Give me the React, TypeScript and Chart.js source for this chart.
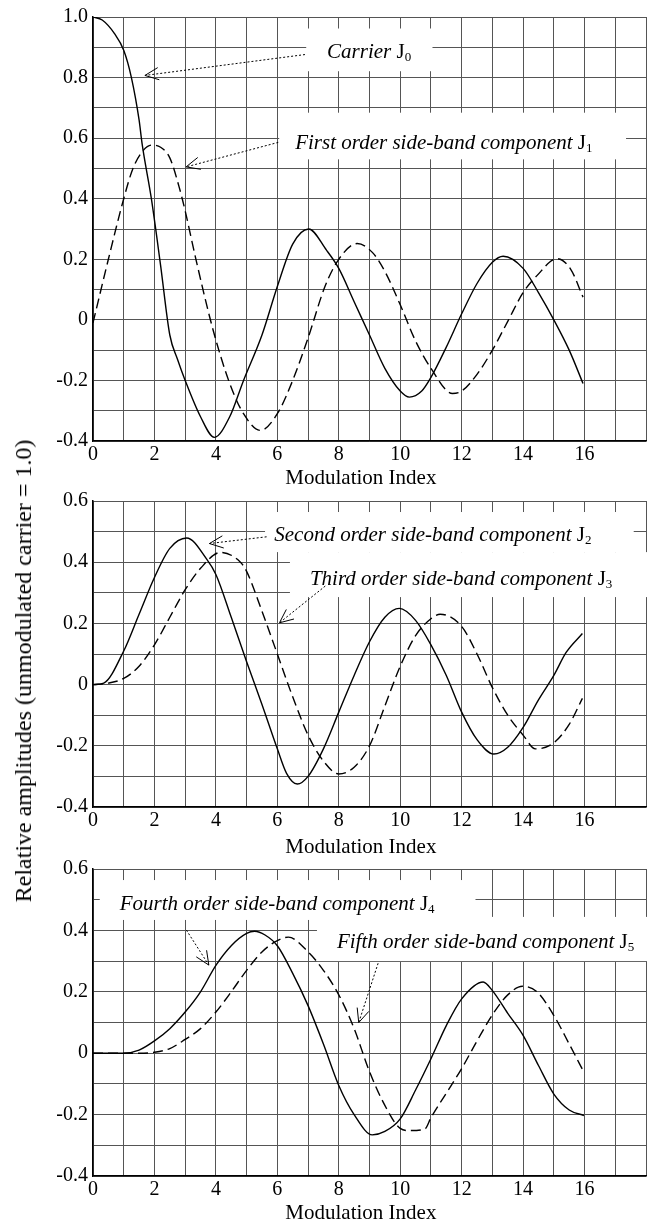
import React, { useEffect, useRef } from "react";
import { Chart, registerables } from "chart.js";

Chart.register(...registerables);

const FONT = "'Liberation Serif', 'Times New Roman', Times, serif";

// ---------- Data ----------
const J0_X = [0, 0.3, 0.7, 1.0, 1.25, 1.5, 1.6, 1.9, 2.2, 2.5, 2.75, 3.0, 3.5, 3.95, 4.45, 4.9, 5.5, 6.0, 6.5, 7.02, 7.6, 8.0, 8.5, 9.0, 9.5, 10.0, 10.3, 10.7, 11.0, 11.5, 12.0, 12.5, 13.0, 13.35, 14.0, 14.5, 15.0, 15.5, 15.95];
const J0_Y = [1.0, 0.99, 0.945, 0.89, 0.8, 0.66, 0.58, 0.4, 0.18, -0.05, -0.13, -0.2, -0.32, -0.388, -0.32, -0.2, -0.05, 0.11, 0.25, 0.3, 0.23, 0.17, 0.06, -0.05, -0.16, -0.235, -0.255, -0.235, -0.19, -0.09, 0.02, 0.12, 0.19, 0.21, 0.17, 0.09, 0.0, -0.1, -0.21];

const J1_X = [0, 0.5, 1.0, 1.3, 1.6, 1.9, 2.2, 2.5, 2.8, 3.0, 3.35, 3.9, 4.45, 4.9, 5.45, 6.0, 6.5, 7.0, 7.55, 8.0, 8.6, 9.1, 9.5, 10.0, 10.5, 11.0, 11.7, 12.0, 12.5, 13.0, 13.5, 14.0, 14.45, 15.1, 15.55, 15.95];
const J1_Y = [-0.01, 0.2, 0.4, 0.5, 0.555, 0.577, 0.57, 0.535, 0.44, 0.36, 0.2, -0.03, -0.21, -0.31, -0.365, -0.31, -0.2, -0.06, 0.11, 0.2, 0.252, 0.222, 0.16, 0.05, -0.07, -0.16, -0.243, -0.235, -0.18, -0.1, -0.005, 0.09, 0.146, 0.202, 0.167, 0.075];

const J2_X = [0, 0.35, 1.0, 1.5, 2.0, 2.5, 3.05, 3.7, 4.0, 4.5, 5.0, 5.5, 6.0, 6.3, 6.65, 7.0, 7.5, 8.0, 8.5, 9.0, 9.5, 9.97, 10.5, 11.0, 11.5, 12.0, 12.5, 13.05, 13.5, 14.0, 14.5, 15.0, 15.4, 15.93];
const J2_Y = [0, 0.005, 0.11, 0.23, 0.35, 0.445, 0.479, 0.41, 0.36, 0.22, 0.075, -0.065, -0.21, -0.29, -0.325, -0.3, -0.21, -0.09, 0.03, 0.14, 0.22, 0.249, 0.21, 0.13, 0.03, -0.09, -0.18, -0.227, -0.205, -0.14, -0.05, 0.03, 0.105, 0.167];

const J3_X = [0, 0.5, 1.0, 1.5, 2.0, 2.5, 3.0, 3.5, 4.15, 4.8, 5.0, 5.5, 6.0, 6.5, 7.0, 7.5, 8.0, 8.5, 9.0, 9.5, 10.0, 10.5, 11.0, 11.3, 12.0, 12.5, 13.0, 13.5, 14.0, 14.4, 15.0, 15.5, 15.93];
const J3_Y = [0, 0.005, 0.02, 0.06, 0.13, 0.22, 0.31, 0.38, 0.432, 0.4, 0.37, 0.24, 0.1, -0.04, -0.165, -0.25, -0.292, -0.27, -0.2, -0.07, 0.06, 0.16, 0.215, 0.23, 0.19, 0.1, -0.01, -0.1, -0.165, -0.21, -0.19, -0.13, -0.045];

const J4_X = [0, 1.0, 1.5, 2.0, 2.5, 3.0, 3.5, 4.0, 4.5, 5.0, 5.26, 5.6, 6.0, 6.5, 7.0, 7.5, 8.0, 8.5, 9.09, 9.5, 10.0, 10.5, 11.0, 11.5, 12.0, 12.7, 13.0, 13.5, 14.0, 14.5, 15.0, 15.5, 15.98];
const J4_Y = [0, 0.0, 0.01, 0.04, 0.08, 0.134, 0.2, 0.286, 0.35, 0.39, 0.397, 0.385, 0.35, 0.26, 0.155, 0.03, -0.105, -0.2, -0.266, -0.255, -0.214, -0.12, -0.018, 0.09, 0.177, 0.232, 0.204, 0.13, 0.058, -0.04, -0.133, -0.185, -0.203];

const J5_X = [0, 1.5, 2.0, 2.5, 3.0, 3.5, 4.0, 4.5, 5.0, 5.5, 6.0, 6.36, 7.0, 7.5, 8.0, 8.5, 9.0, 9.5, 10.0, 10.3, 10.8, 11.0, 11.5, 12.0, 12.5, 13.0, 13.5, 13.98, 14.45, 15.0, 15.5, 15.98];
const J5_Y = [0, 0.0, 0.003, 0.015, 0.045, 0.08, 0.134, 0.2, 0.27, 0.33, 0.367, 0.378, 0.33, 0.27, 0.19, 0.08, -0.06, -0.17, -0.245, -0.252, -0.247, -0.21, -0.13, -0.05, 0.04, 0.125, 0.19, 0.218, 0.2, 0.123, 0.03, -0.062];

const X_LABEL_VALUES = [0, 2, 4, 6, 8, 10, 12, 14, 16];
const X_TITLE = "Modulation Index";
const Y_TITLE = "Relative amplitudes (unmodulated carrier = 1.0)";

const LABEL_J0 = "Carrier ";
const LABEL_J1 = "First order side-band component ";
const LABEL_J2 = "Second order side-band component ";
const LABEL_J3 = "Third order side-band component ";
const LABEL_J4 = "Fourth order side-band component ";
const LABEL_J5 = "Fifth order side-band component ";

const pts = (xs: number[], ys: number[]) => xs.map((x, i) => ({ x, y: ys[i] }));

type Box = [number, number, number, number]; // x1, x2, y1, y2 (data)
type Label = { x: number; y: number; text: string; sub: string };
type Arrow = { from: [number, number]; to: [number, number] };

type Panel = {
  top: number;
  height: number;
  padTop: number;
  xAxisH: number;
  titleOffset: number; // distance of x-title centre from canvas bottom
  yMin: number;
  yMax: number;
  series: { xs: number[]; ys: number[]; dashed: boolean; name: string }[];
  boxes: Box[];
  labels: Label[];
  arrows: Arrow[];
};

const PANELS: Panel[] = [
  {
    top: 0, height: 500, padTop: 13, xAxisH: 59, titleOffset: 22, yMin: -0.4, yMax: 1.0,
    series: [
      { xs: J0_X, ys: J0_Y, dashed: false, name: "J0" },
      { xs: J1_X, ys: J1_Y, dashed: true, name: "J1" },
    ],
    boxes: [[6.94, 11.05, 0.821, 0.962], [6.06, 17.35, 0.53, 0.684]],
    labels: [
      { x: 7.62, y: 0.864, text: LABEL_J0, sub: "0" },
      { x: 6.58, y: 0.564, text: LABEL_J1, sub: "1" },
    ],
    arrows: [
      { from: [6.9, 0.876], to: [1.69, 0.807] },
      { from: [6.03, 0.586], to: [3.03, 0.505] },
    ],
  },
  {
    top: 480, height: 380, padTop: 21, xAxisH: 53, titleOffset: 13, yMin: -0.4, yMax: 0.6,
    series: [
      { xs: J2_X, ys: J2_Y, dashed: false, name: "J2" },
      { xs: J3_X, ys: J3_Y, dashed: true, name: "J3" },
    ],
    boxes: [[5.6, 17.6, 0.433, 0.564], [6.41, 18.15, 0.286, 0.433]],
    labels: [
      { x: 5.9, y: 0.468, text: LABEL_J2, sub: "2" },
      { x: 7.06, y: 0.326, text: LABEL_J3, sub: "3" },
    ],
    arrows: [
      { from: [5.65, 0.483], to: [3.79, 0.461] },
      { from: [7.56, 0.322], to: [6.07, 0.202] },
    ],
  },
  {
    top: 850, height: 376, padTop: 19, xAxisH: 50, titleOffset: 12.6, yMin: -0.4, yMax: 0.6,
    series: [
      { xs: J4_X, ys: J4_Y, dashed: false, name: "J4" },
      { xs: J5_X, ys: J5_Y, dashed: true, name: "J5" },
    ],
    boxes: [[0.22, 12.45, 0.434, 0.564], [7.29, 18.15, 0.3, 0.444]],
    labels: [
      { x: 0.87, y: 0.466, text: LABEL_J4, sub: "4" },
      { x: 7.94, y: 0.342, text: LABEL_J5, sub: "5" },
    ],
    arrows: [
      { from: [3.04, 0.401], to: [3.77, 0.287] },
      { from: [9.28, 0.293], to: [8.65, 0.1] },
    ],
  },
];

const X_TITLE_CENTER = 8.72; // data-x where the axis title is centred

const annotPlugin = {
  id: "annot",
  beforeDatasetsDraw(chart: any, _a: any, opts: any) {
    const { ctx } = chart;
    const xs = chart.scales.x, ys = chart.scales.y;
    ctx.save();
    ctx.fillStyle = "#ffffff";
    for (const b of opts.boxes as Box[]) {
      const x1 = xs.getPixelForValue(b[0]);
      const x2 = xs.getPixelForValue(b[1]);
      const y1 = ys.getPixelForValue(b[3]);
      const y2 = ys.getPixelForValue(b[2]);
      ctx.fillRect(x1, y1, x2 - x1, y2 - y1);
    }
    ctx.restore();
  },
  afterDatasetsDraw(chart: any, _a: any, opts: any) {
    const { ctx } = chart;
    const xs = chart.scales.x, ys = chart.scales.y;
    ctx.save();
    ctx.fillStyle = "#000";
    ctx.textBaseline = "alphabetic";
    ctx.textAlign = "left";
    for (const l of opts.labels as Label[]) {
      let px = xs.getPixelForValue(l.x);
      const py = ys.getPixelForValue(l.y);
      ctx.font = `italic 21px ${FONT}`;
      ctx.fillText(l.text, px, py);
      px += ctx.measureText(l.text).width;
      ctx.font = `21px ${FONT}`;
      ctx.fillText("J", px, py);
      px += ctx.measureText("J").width;
      ctx.font = `13px ${FONT}`;
      ctx.fillText(l.sub, px, py + 3);
    }
    for (const a of opts.arrows as Arrow[]) {
      const fx = xs.getPixelForValue(a.from[0]);
      const fy = ys.getPixelForValue(a.from[1]);
      const tx = xs.getPixelForValue(a.to[0]);
      const ty = ys.getPixelForValue(a.to[1]);
      ctx.strokeStyle = "#000";
      ctx.lineWidth = 1;
      ctx.setLineDash([2, 2]);
      ctx.beginPath();
      ctx.moveTo(fx, fy);
      ctx.lineTo(tx, ty);
      ctx.stroke();
      ctx.setLineDash([]);
      const ang = Math.atan2(fy - ty, fx - tx);
      const len = 15, spread = 0.42;
      ctx.beginPath();
      ctx.moveTo(tx + len * Math.cos(ang + spread), ty + len * Math.sin(ang + spread));
      ctx.lineTo(tx, ty);
      ctx.lineTo(tx + len * Math.cos(ang - spread), ty + len * Math.sin(ang - spread));
      ctx.stroke();
    }
    // x-axis title
    ctx.font = `21px ${FONT}`;
    ctx.textAlign = "center";
    ctx.textBaseline = "middle";
    ctx.fillText(opts.xTitle, xs.getPixelForValue(X_TITLE_CENTER), chart.height - opts.titleOffset);
    ctx.restore();
  },
};

function PanelChart({ p }: { p: Panel }) {
  const ref = useRef<HTMLCanvasElement | null>(null);
  useEffect(() => {
    if (!ref.current) return;
    const chart = new Chart(ref.current, {
      type: "line",
      data: {
        datasets: p.series.map((s) => ({
          label: s.name,
          data: pts(s.xs, s.ys),
          borderColor: "#000",
          borderWidth: 1.4,
          borderDash: s.dashed ? [10, 5] : [],
          pointRadius: 0,
          fill: false,
          cubicInterpolationMode: "monotone" as const,
        })),
      },
      options: {
        responsive: false,
        animation: false,
        parsing: false as any,
        layout: { padding: { top: p.padTop, right: 11, left: 0, bottom: 0 } },
        plugins: {
          legend: { display: false },
          tooltip: { enabled: false },
          annot: { boxes: p.boxes, labels: p.labels, arrows: p.arrows, xTitle: X_TITLE, titleOffset: p.titleOffset },
        } as any,
        scales: {
          x: {
            type: "linear",
            min: 0,
            max: 18,
            ticks: {
              stepSize: 1,
              autoSkip: false,
              maxRotation: 0,
              padding: 2,
              color: "#000",
              font: { family: FONT, size: 20 },
              callback: (v: any) => (X_LABEL_VALUES.includes(Math.round(Number(v))) && Math.abs(Number(v) - Math.round(Number(v))) < 1e-6 ? String(Math.round(Number(v))) : ""),
            },
            grid: { color: "#555", lineWidth: 1, drawTicks: false },
            border: { color: "#000", width: 1.5 },
            title: { display: false, text: X_TITLE },
            afterFit: (s: any) => { s.height = p.xAxisH; },
          },
          y: {
            type: "linear",
            min: p.yMin,
            max: p.yMax,
            ticks: {
              stepSize: 0.1,
              autoSkip: false,
              padding: 5,
              color: "#000",
              font: { family: FONT, size: 20 },
              callback: (v: any) => {
                const k = Math.round(Number(v) * 10);
                if (k % 2 !== 0) return "";
                if (k === 0) return "0";
                return (k / 10).toFixed(1);
              },
            },
            grid: { color: "#555", lineWidth: 1, drawTicks: false },
            border: { color: "#000", width: 1.5 },
            afterFit: (s: any) => { s.width = 93; },
          },
        },
      },
      plugins: [annotPlugin],
    } as any);
    return () => chart.destroy();
  }, [p]);
  return (
    <canvas
      ref={ref}
      width={657}
      height={p.height}
      style={{ position: "absolute", left: 0, top: p.top, width: 657, height: p.height }}
    />
  );
}

export default function App() {
  return (
    <div style={{ position: "absolute", left: 0, top: 0, width: 657, height: 1226, background: "#fff", overflow: "hidden" }}>
      {PANELS.map((p, i) => (
        <PanelChart key={i} p={p} />
      ))}
      <div
        style={{
          position: "absolute",
          left: 23,
          top: 671,
          transform: "translate(-50%, -50%) rotate(-90deg)",
          whiteSpace: "nowrap",
          fontFamily: FONT,
          fontSize: 24,
          color: "#000",
          lineHeight: 1,
        }}
      >
        {Y_TITLE}
      </div>
    </div>
  );
}
